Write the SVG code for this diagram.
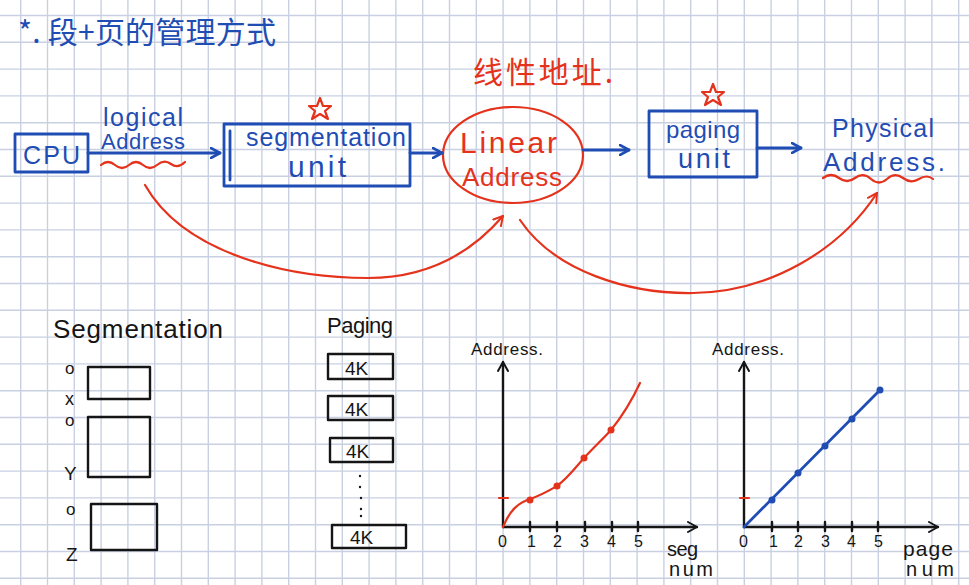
<svg xmlns="http://www.w3.org/2000/svg" width="969" height="585" viewBox="0 0 969 585">
<defs>
<style>
.grid line{stroke:#c8d0e2;stroke-width:1.4}
.b{stroke:#1f4db3;fill:none;stroke-width:2.8;stroke-linecap:round;stroke-linejoin:round}
.r{stroke:#e5321c;fill:none;stroke-width:2.2;stroke-linecap:round;stroke-linejoin:round}
.k{stroke:#151515;fill:none;stroke-width:2.4;stroke-linecap:round;stroke-linejoin:round}
.tb{fill:#1f4db3;font-family:"Liberation Sans","DejaVu Sans",sans-serif}
.tr{fill:#e5321c;font-family:"Liberation Sans","DejaVu Sans",sans-serif}
.tk{fill:#151515;font-family:"Liberation Sans","DejaVu Sans",sans-serif}
.cjk{font-family:"Noto Sans CJK SC","Liberation Sans",sans-serif}
</style>
<marker id="ab" viewBox="0 0 12 12" refX="10" refY="6" markerWidth="12" markerHeight="12" markerUnits="userSpaceOnUse" orient="auto">
<path d="M1,1 L10,6 L1,11" fill="none" stroke="#1f4db3" stroke-width="2.6" stroke-linecap="round" stroke-linejoin="round"/>
</marker>
<marker id="ar" viewBox="0 0 12 12" refX="10" refY="6" markerWidth="12" markerHeight="12" markerUnits="userSpaceOnUse" orient="auto">
<path d="M1,1 L10,6 L1,11" fill="none" stroke="#e5321c" stroke-width="2" stroke-linecap="round" stroke-linejoin="round"/>
</marker>
<marker id="ak" viewBox="0 0 12 12" refX="10" refY="6" markerWidth="12" markerHeight="12" markerUnits="userSpaceOnUse" orient="auto">
<path d="M1,1 L10,6 L1,11" fill="none" stroke="#151515" stroke-width="2" stroke-linecap="round" stroke-linejoin="round"/>
</marker>
</defs>
<rect width="969" height="585" fill="#ffffff"/>
<g class="grid">
<line x1="20.7" y1="0" x2="20.7" y2="585"/><line x1="47.5" y1="0" x2="47.5" y2="585"/><line x1="74.3" y1="0" x2="74.3" y2="585"/><line x1="101.1" y1="0" x2="101.1" y2="585"/><line x1="127.9" y1="0" x2="127.9" y2="585"/><line x1="154.7" y1="0" x2="154.7" y2="585"/><line x1="181.5" y1="0" x2="181.5" y2="585"/><line x1="208.3" y1="0" x2="208.3" y2="585"/><line x1="235.1" y1="0" x2="235.1" y2="585"/><line x1="261.9" y1="0" x2="261.9" y2="585"/><line x1="288.7" y1="0" x2="288.7" y2="585"/><line x1="315.5" y1="0" x2="315.5" y2="585"/><line x1="342.3" y1="0" x2="342.3" y2="585"/><line x1="369.1" y1="0" x2="369.1" y2="585"/><line x1="395.9" y1="0" x2="395.9" y2="585"/><line x1="422.7" y1="0" x2="422.7" y2="585"/><line x1="449.5" y1="0" x2="449.5" y2="585"/><line x1="476.3" y1="0" x2="476.3" y2="585"/><line x1="503.1" y1="0" x2="503.1" y2="585"/><line x1="529.9" y1="0" x2="529.9" y2="585"/><line x1="556.7" y1="0" x2="556.7" y2="585"/><line x1="583.5" y1="0" x2="583.5" y2="585"/><line x1="610.3" y1="0" x2="610.3" y2="585"/><line x1="637.1" y1="0" x2="637.1" y2="585"/><line x1="663.9" y1="0" x2="663.9" y2="585"/><line x1="690.7" y1="0" x2="690.7" y2="585"/><line x1="717.5" y1="0" x2="717.5" y2="585"/><line x1="744.3" y1="0" x2="744.3" y2="585"/><line x1="771.1" y1="0" x2="771.1" y2="585"/><line x1="797.9" y1="0" x2="797.9" y2="585"/><line x1="824.7" y1="0" x2="824.7" y2="585"/><line x1="851.5" y1="0" x2="851.5" y2="585"/><line x1="878.3" y1="0" x2="878.3" y2="585"/><line x1="905.1" y1="0" x2="905.1" y2="585"/><line x1="931.9" y1="0" x2="931.9" y2="585"/><line x1="958.7" y1="0" x2="958.7" y2="585"/>
<line x1="0" y1="15.5" x2="969" y2="15.5"/><line x1="0" y1="42.3" x2="969" y2="42.3"/><line x1="0" y1="69.1" x2="969" y2="69.1"/><line x1="0" y1="95.9" x2="969" y2="95.9"/><line x1="0" y1="122.7" x2="969" y2="122.7"/><line x1="0" y1="149.5" x2="969" y2="149.5"/><line x1="0" y1="176.3" x2="969" y2="176.3"/><line x1="0" y1="203.1" x2="969" y2="203.1"/><line x1="0" y1="229.9" x2="969" y2="229.9"/><line x1="0" y1="256.7" x2="969" y2="256.7"/><line x1="0" y1="283.5" x2="969" y2="283.5"/><line x1="0" y1="310.3" x2="969" y2="310.3"/><line x1="0" y1="337.1" x2="969" y2="337.1"/><line x1="0" y1="363.9" x2="969" y2="363.9"/><line x1="0" y1="390.7" x2="969" y2="390.7"/><line x1="0" y1="417.5" x2="969" y2="417.5"/><line x1="0" y1="444.3" x2="969" y2="444.3"/><line x1="0" y1="471.1" x2="969" y2="471.1"/><line x1="0" y1="497.9" x2="969" y2="497.9"/><line x1="0" y1="524.7" x2="969" y2="524.7"/><line x1="0" y1="551.5" x2="969" y2="551.5"/><line x1="0" y1="578.3" x2="969" y2="578.3"/>
</g>

<g id="title">
<text class="tb cjk" x="18" y="43" font-size="30" textLength="258">*. 段+页的管理方式</text>
</g>

<g id="cpu">
<rect class="b" x="15" y="134" width="73" height="38"/>
<text class="tb" x="23" y="164" font-size="25" textLength="57">CPU</text>
</g>

<g id="logical-address">
<text class="tb" x="103" y="126" font-size="25" textLength="80">logical</text>
<text class="tb" x="101" y="149" font-size="22" textLength="84">Address</text>
<path class="r" d="M101,165 q7,-6 14,0 t14,0 t14,0 t14,0 t14,-1 t14,-2"/>
</g>

<g id="segmentation-unit">
<rect class="b" x="224" y="124" width="186" height="62"/>
<line class="b" x1="230" y1="131" x2="230" y2="180"/>
<path class="r" d="M320,98 L323,106 L331,106 L325,111 L328,119 L320,114 L312,119 L315,111 L309,106 L317,106 Z"/>
<text class="tb" x="246" y="146" font-size="25" textLength="160">segmentation</text>
<text class="tb" x="288" y="177" font-size="30" textLength="58">unit</text>
</g>

<g id="linear-address">
<ellipse class="r" cx="513" cy="155" rx="70" ry="48" stroke-width="2.6"/>
<text class="tr" x="460" y="153" font-size="30" textLength="97">Linear</text>
<text class="tr" x="462" y="186" font-size="26" textLength="100">Address</text>
<text class="tr cjk" x="473" y="83" font-size="30" textLength="140">线性地址.</text>
</g>

<g id="paging-unit">
<rect class="b" x="649" y="111" width="108" height="66"/>
<path class="r" d="M713,84 L716,92 L724,92 L718,97 L721,105 L713,100 L705,105 L708,97 L702,92 L710,92 Z"/>
<text class="tb" x="666" y="138" font-size="24" textLength="74">paging</text>
<text class="tb" x="678" y="168" font-size="27" textLength="52">unit</text>
</g>

<g id="physical-address">
<text class="tb" x="832" y="137" font-size="25" textLength="102">Physical</text>
<text class="tb" x="823" y="171" font-size="26" textLength="122">Address.</text>
<path class="r" d="M823,178 q8,-6 16,0 t16,0 t16,1 t16,0 t16,-1 t16,1 t14,0"/>
</g>

<g id="connectors">
<line class="b" x1="88" y1="153" x2="220" y2="153" marker-end="url(#ab)"/>
<line class="b" x1="410" y1="153" x2="442" y2="153" marker-end="url(#ab)"/>
<line class="b" x1="583" y1="150" x2="629" y2="150" marker-end="url(#ab)"/>
<line class="b" x1="757" y1="148" x2="801" y2="148" marker-end="url(#ab)"/>
<path class="r" d="M145,185 C185,255 290,278 368,278 C430,278 472,252 503,216" marker-end="url(#ar)"/>
<path class="r" d="M520,220 C555,272 630,294 693,293 C770,292 840,250 877,193" marker-end="url(#ar)"/>
</g>

<g id="segmentation-diagram">
<text class="tk" x="53" y="338" font-size="26" textLength="170">Segmentation</text>
<rect class="k" x="88" y="367" width="62" height="32"/>
<rect class="k" x="88" y="417" width="62" height="60"/>
<rect class="k" x="91" y="504" width="66" height="46"/>
<text class="tk" x="65" y="374" font-size="17">o</text>
<text class="tk" x="65" y="405" font-size="18">x</text>
<text class="tk" x="65" y="426" font-size="17">o</text>
<text class="tk" x="64" y="480" font-size="19">Y</text>
<text class="tk" x="66" y="515" font-size="17">o</text>
<text class="tk" x="66" y="561" font-size="19">Z</text>
</g>

<g id="paging-diagram">
<text class="tk" x="327" y="333" font-size="22" textLength="66">Paging</text>
<rect class="k" x="328" y="354" width="65" height="25"/>
<text class="tk" x="345" y="375" font-size="19">4K</text>
<rect class="k" x="328" y="396" width="65" height="24"/>
<text class="tk" x="345" y="416" font-size="19">4K</text>
<rect class="k" x="330" y="438" width="63" height="24"/>
<text class="tk" x="346" y="458" font-size="19">4K</text>
<g fill="#151515"><circle cx="360" cy="476" r="1.2"/><circle cx="360" cy="487" r="1.2"/><circle cx="361" cy="498" r="1.2"/><circle cx="361" cy="509" r="1.2"/><circle cx="361" cy="516" r="1.2"/></g>
<rect class="k" x="332" y="525" width="74" height="23"/>
<text class="tk" x="350" y="544" font-size="19">4K</text>
</g>

<g id="segment-graph">
<text class="tk" x="471" y="355" font-size="17" textLength="72">Address.</text>
<line class="k" x1="503" y1="527" x2="503" y2="362" marker-end="url(#ak)"/>
<line class="k" x1="503" y1="527" x2="697" y2="527" marker-end="url(#ak)"/>
<g class="k" stroke-width="1.8"><line x1="530" y1="522" x2="530" y2="531"/><line x1="557" y1="522" x2="557" y2="531"/><line x1="585" y1="522" x2="585" y2="531"/><line x1="612" y1="522" x2="612" y2="531"/><line x1="638" y1="522" x2="638" y2="531"/></g>
<g class="tk" font-size="16"><text x="498" y="547">0</text><text x="527" y="547">1</text><text x="553" y="547">2</text><text x="580" y="547">3</text><text x="607" y="547">4</text><text x="634" y="547">5</text></g>
<text class="tk" x="667" y="556" font-size="20" textLength="31">seg</text>
<text class="tk" x="669" y="576" font-size="20" textLength="44">num</text>
<line class="r" x1="499" y1="498" x2="508" y2="498" stroke-width="3"/>
<path class="r" d="M503,527 C510,510 518,503 530,499 C542,495 550,490 557,486 C568,478 576,467 584,458 C594,447 603,439 611,430 C624,414 633,398 640,383"/>
<g fill="#e5321c"><circle cx="530" cy="500" r="3.5"/><circle cx="557" cy="486" r="3.5"/><circle cx="584" cy="458" r="3.5"/><circle cx="611" cy="430" r="3.5"/></g>
</g>

<g id="page-graph">
<text class="tk" x="712" y="355" font-size="17" textLength="72">Address.</text>
<line class="k" x1="744" y1="527" x2="744" y2="362" marker-end="url(#ak)"/>
<line class="k" x1="744" y1="527" x2="938" y2="527" marker-end="url(#ak)"/>
<g class="k" stroke-width="1.8"><line x1="772" y1="522" x2="772" y2="531"/><line x1="798" y1="522" x2="798" y2="531"/><line x1="825" y1="522" x2="825" y2="531"/><line x1="852" y1="522" x2="852" y2="531"/><line x1="878" y1="522" x2="878" y2="531"/></g>
<g class="tk" font-size="16"><text x="739" y="547">0</text><text x="769" y="547">1</text><text x="794" y="547">2</text><text x="821" y="547">3</text><text x="847" y="547">4</text><text x="874" y="547">5</text></g>
<text class="tk" x="903" y="556" font-size="21" textLength="50">page</text>
<text class="tk" x="906" y="576" font-size="20" textLength="48">num</text>
<line class="r" x1="740" y1="498" x2="749" y2="498" stroke-width="3"/>
<line class="b" x1="744" y1="527" x2="880" y2="390" stroke-width="2"/>
<g fill="#1f4db3"><circle cx="772" cy="500" r="3.5"/><circle cx="798" cy="473" r="3.5"/><circle cx="825" cy="446" r="3.5"/><circle cx="852" cy="419" r="3.5"/><circle cx="880" cy="390" r="3.5"/></g>
</g>
</svg>
